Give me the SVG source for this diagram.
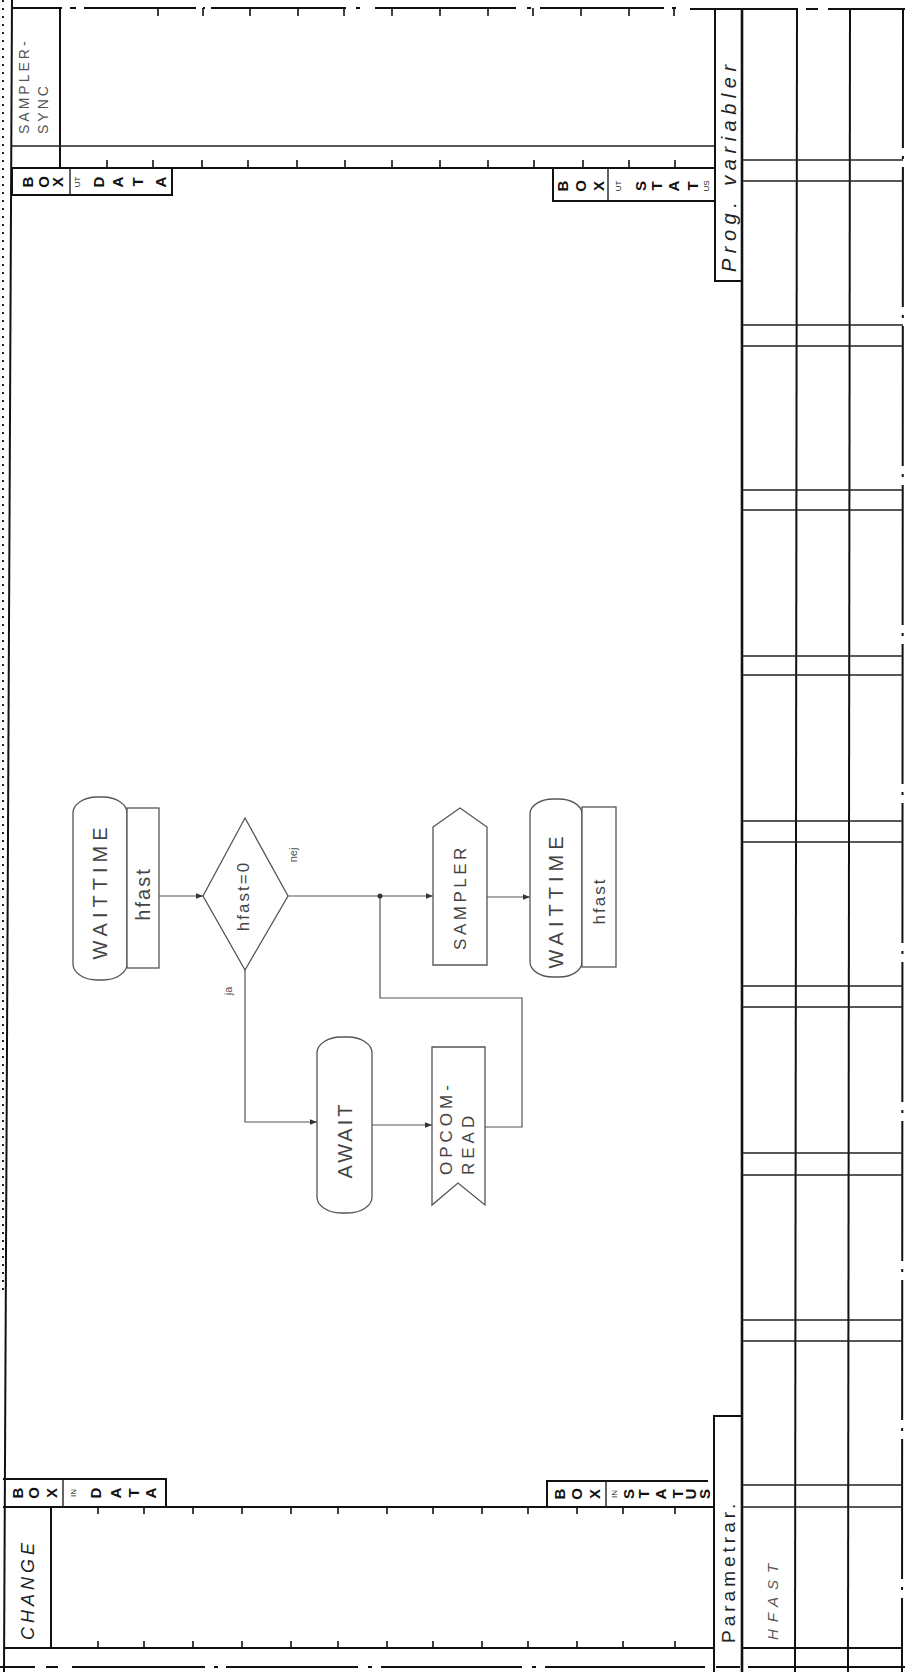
<svg xmlns="http://www.w3.org/2000/svg" width="905" height="1672" viewBox="0 0 905 1672">
<defs>
<marker id="ah" viewBox="0 0 10 10" refX="10" refY="5" markerWidth="9" markerHeight="7" markerUnits="userSpaceOnUse" orient="auto">
<path d="M0,1 L10,5 L0,9 Z" fill="#333"/>
</marker>
<style>
.f{stroke:#111;stroke-width:2;fill:none}
.ft{stroke:#222;stroke-width:1.4;fill:none}
.tk{stroke:#111;stroke-width:1.6;fill:none}
.n{stroke:#555;stroke-width:1.3;fill:#fff}
.c{stroke:#555;stroke-width:1.2;fill:none}
.bx{font-family:"Liberation Sans",Arial,sans-serif;font-weight:bold;font-size:15px;fill:#111}
.sm{font-family:"Liberation Sans",Arial,sans-serif;font-size:8px;fill:#222}
.hl{font-family:"Liberation Sans",Arial,sans-serif;font-size:14px;fill:#555;letter-spacing:3px}
.it{font-family:"Liberation Sans",Arial,sans-serif;font-style:italic;fill:#222}
.nt{font-family:"Liberation Sans",Arial,sans-serif;font-size:20px;fill:#444;letter-spacing:5px}
.ns{font-family:"Liberation Sans",Arial,sans-serif;font-size:17px;fill:#444;letter-spacing:3.5px}
.lb{font-family:"Liberation Sans",Arial,sans-serif;font-size:11px;fill:#555}
</style>
</defs>
<rect width="905" height="1672" fill="#fff"/>

<g id="form">
<line x1="3" y1="0" x2="3" y2="1290" stroke="#222" stroke-width="2" stroke-dasharray="2 6"/>
<line x1="12" y1="0" x2="4" y2="1672" class="f"/>
<path class="f" d="M12,8 H62 M70,8 H76 M84,8 H196 M203,8 H205 M211,8 H346 M356,8 H360 M375,8 H516 M527,8 H531 M540,8 H664 M672,8 H676 M690,9 H796 M806,9 H818 M828,9 H905"/>
<path class="tk" d="M158,8 v8 M203,8 v8 M250,8 v8 M298,8 v8 M344,8 v8 M392,8 v8 M440,8 v8 M488,8 v8 M533,8 v8 M581,8 v8 M629,8 v8 M674,8 v8"/>
<line x1="60" y1="8" x2="60" y2="168" class="f"/>
<line x1="12" y1="146" x2="715" y2="146" class="ft"/>
<line x1="12" y1="168" x2="715" y2="168" class="f"/>
<path class="tk" d="M107,168 v-8 M153,168 v-8 M202,168 v-8 M248,168 v-8 M297,168 v-8 M345,168 v-8 M392,168 v-8 M440,168 v-8 M488,168 v-8 M534,168 v-8 M583,168 v-8 M629,168 v-8 M675,168 v-8"/>
<line x1="3" y1="1507" x2="714" y2="1507" class="f"/>
<path class="tk" d="M98,1507 v7 M144,1507 v7 M193,1507 v7 M242,1507 v7 M291,1507 v7 M338,1507 v7 M387,1507 v7 M433,1507 v7 M482,1507 v7 M528,1507 v7 M577,1507 v7 M623,1507 v7 M675,1507 v7"/>
<line x1="51" y1="1507" x2="51" y2="1648" class="f"/>
<line x1="3" y1="1648" x2="714" y2="1648" class="f"/>
<line x1="743" y1="1648" x2="903" y2="1648" class="f"/>
<path class="tk" d="M98,1648 v-7 M144,1648 v-7 M193,1648 v-7 M242,1648 v-7 M291,1648 v-7 M338,1648 v-7 M387,1648 v-7 M433,1648 v-7 M482,1648 v-7 M528,1648 v-7 M577,1648 v-7 M623,1648 v-7 M675,1648 v-7"/>
<path class="f" d="M0,1667 H35 M46,1667 H58 M72,1667 H205 M214,1667 H218 M226,1667 H358 M368,1667 H372 M381,1667 H522 M532,1667 H536 M545,1667 H705 M716,1667 H740 M748,1667 H905"/>
<path class="f" d="M715,8 V281 H743"/>
<path class="f" d="M714,1672 V1416 H741"/>
<line x1="742" y1="8" x2="742" y2="1672" stroke="#111" stroke-width="2.6"/>
<line x1="797" y1="8" x2="795" y2="1672" class="f"/>
<line x1="850" y1="8" x2="848" y2="1672" class="f"/>
<line x1="903" y1="8" x2="902" y2="1672" class="f" stroke-dasharray="140 8 3 8"/>
<path class="ft" d="M742,160 H903 M742,181 H903 M742,325 H903 M742,346 H903 M742,490 H903 M742,510 H903 M742,656 H903 M742,675 H903 M742,821 H903 M742,842 H903 M742,986 H903 M742,1007 H903 M742,1153 H903 M742,1175 H903 M742,1320 H903 M742,1341 H903 M742,1485 H903 M742,1507 H903"/>
</g>

<g id="sampler-sync">
<text class="hl" transform="translate(29,134) rotate(-90)">SAMPLER-</text>
<text class="hl" transform="translate(48,134) rotate(-90)">SYNC</text>
</g>

<g id="box-ut-data">
<rect x="12" y="168" width="160" height="27" class="f"/>
<line x1="70" y1="168" x2="70" y2="195" class="ft"/>
<g class="bx" text-anchor="middle" dominant-baseline="central">
<text transform="translate(27,182) rotate(-90)">B</text>
<text transform="translate(43,182) rotate(-90)">O</text>
<text transform="translate(57,182) rotate(-90)">X</text>
<text transform="translate(98,182) rotate(-90)">D</text>
<text transform="translate(117,182) rotate(-90)">A</text>
<text transform="translate(137,182) rotate(-90)">T</text>
<text transform="translate(160,182) rotate(-90)">A</text>
</g>
<text class="sm" text-anchor="middle" dominant-baseline="central" transform="translate(77,182) rotate(-90)">UT</text>
</g>

<g id="box-ut-status">
<rect x="553" y="168" width="162" height="33" class="f"/>
<line x1="608" y1="168" x2="608" y2="201" class="ft"/>
<g class="bx" text-anchor="middle" dominant-baseline="central">
<text transform="translate(562,186) rotate(-90)">B</text>
<text transform="translate(580,186) rotate(-90)">O</text>
<text transform="translate(598,186) rotate(-90)">X</text>
<text transform="translate(640,186) rotate(-90)">S</text>
<text transform="translate(656,186) rotate(-90)">T</text>
<text transform="translate(673,186) rotate(-90)">A</text>
<text transform="translate(692,186) rotate(-90)">T</text>
</g>
<text class="sm" text-anchor="middle" dominant-baseline="central" transform="translate(618,186) rotate(-90)">UT</text>
<text class="sm" text-anchor="middle" dominant-baseline="central" transform="translate(706,186) rotate(-90)">US</text>
</g>

<g id="prog-variabler">
<text class="it" transform="translate(736,272) rotate(-90)" style="font-size:20px;letter-spacing:5.5px">Prog. variabler</text>
</g>

<g id="box-in-data">
<path class="f" d="M3,1479 H166 V1507"/>
<line x1="63" y1="1479" x2="63" y2="1507" class="ft"/>
<g class="bx" text-anchor="middle" dominant-baseline="central">
<text transform="translate(17,1493) rotate(-90)">B</text>
<text transform="translate(33,1493) rotate(-90)">O</text>
<text transform="translate(51,1493) rotate(-90)">X</text>
<text transform="translate(95,1493) rotate(-90)">D</text>
<text transform="translate(115,1493) rotate(-90)">A</text>
<text transform="translate(133,1493) rotate(-90)">T</text>
<text transform="translate(150,1493) rotate(-90)">A</text>
</g>
<text class="sm" text-anchor="middle" dominant-baseline="central" transform="translate(73,1493) rotate(-90)">IN</text>
</g>

<g id="box-in-status">
<path class="f" d="M547,1507 V1481 H708"/>
<line x1="606" y1="1481" x2="606" y2="1507" class="ft"/>
<g class="bx" text-anchor="middle" dominant-baseline="central">
<text transform="translate(559,1494) rotate(-90)">B</text>
<text transform="translate(576,1494) rotate(-90)">O</text>
<text transform="translate(594,1494) rotate(-90)">X</text>
<text transform="translate(628,1494) rotate(-90)">S</text>
<text transform="translate(643,1494) rotate(-90)">T</text>
<text transform="translate(660,1494) rotate(-90)">A</text>
<text transform="translate(677,1494) rotate(-90)">T</text>
<text transform="translate(690,1494) rotate(-90)">U</text>
<text transform="translate(704,1494) rotate(-90)">S</text>
</g>
<text class="sm" text-anchor="middle" dominant-baseline="central" transform="translate(614,1494) rotate(-90)">IN</text>
</g>

<g id="change">
<text class="it" transform="translate(34,1640) rotate(-90)" style="font-size:18px;letter-spacing:4px">CHANGE</text>
</g>

<g id="parametrar">
<text class="it" transform="translate(735,1643) rotate(-90)" style="font-style:normal;font-size:19px;letter-spacing:4px">Parametrar.</text>
</g>

<g id="hfast-param">
<text class="hl" transform="translate(778,1640) rotate(-90)" style="font-style:italic;font-size:15px;letter-spacing:7px">HFAST</text>
</g>

<g id="connectors">
<line x1="159" y1="896" x2="203" y2="896" class="c" marker-end="url(#ah)"/>
<line x1="288" y1="896" x2="433" y2="896" class="c" marker-end="url(#ah)"/>
<line x1="487" y1="897" x2="530" y2="897" class="c" marker-end="url(#ah)"/>
<polyline points="245,970 245,1122 317,1122" class="c" marker-end="url(#ah)"/>
<line x1="372" y1="1125" x2="432" y2="1125" class="c" marker-end="url(#ah)"/>
<polyline points="485,1127 522,1127 522,998 380,998 380,896" class="c" stroke-width="1.6"/>
<circle cx="380" cy="896" r="2.5" fill="#333"/>
</g>

<g id="waittime1">
<rect x="73" y="797" width="54" height="183" rx="24" ry="16" class="n"/>
<rect x="127" y="808" width="32" height="160" class="n"/>
<text class="nt" text-anchor="middle" dominant-baseline="central" transform="translate(100,891) rotate(-90)">WAITTIME</text>
<text class="nt" text-anchor="middle" dominant-baseline="central" transform="translate(143,894) rotate(-90)" style="letter-spacing:2px">hfast</text>
</g>

<g id="decision">
<polygon points="203,896 245,818 288,896 245,970" class="n"/>
<text class="ns" text-anchor="middle" dominant-baseline="central" transform="translate(243,896) rotate(-90)" style="letter-spacing:2px">hfast=0</text>
<text class="lb" text-anchor="middle" dominant-baseline="central" transform="translate(293,855) rotate(-90)">nej</text>
<text class="lb" text-anchor="middle" dominant-baseline="central" transform="translate(228,991) rotate(-90)">ja</text>
</g>

<g id="sampler">
<path d="M433,827 L460,808 L487,827 V965 H433 Z" class="n"/>
<text class="ns" text-anchor="middle" dominant-baseline="central" transform="translate(460,897) rotate(-90)">SAMPLER</text>
</g>

<g id="waittime2">
<rect x="530" y="799" width="52" height="178" rx="23" ry="15" class="n"/>
<rect x="582" y="807" width="34" height="160" class="n"/>
<text class="nt" text-anchor="middle" dominant-baseline="central" transform="translate(556,900) rotate(-90)">WAITTIME</text>
<text class="ns" text-anchor="middle" dominant-baseline="central" transform="translate(599,901) rotate(-90)" style="letter-spacing:2px">hfast</text>
</g>

<g id="await">
<rect x="317" y="1037" width="55" height="176" rx="24" ry="16" class="n"/>
<text class="nt" text-anchor="middle" dominant-baseline="central" transform="translate(345,1140) rotate(-90)" style="letter-spacing:3px">AWAIT</text>
</g>

<g id="opcom-read">
<path d="M432,1047 H485 V1205 L458,1183 L432,1205 Z" class="n"/>
<text class="ns" transform="translate(452,1175) rotate(-90)" style="letter-spacing:4px">OPCOM-</text>
<text class="ns" transform="translate(474,1175) rotate(-90)" style="letter-spacing:4px">READ</text>
</g>
</svg>
